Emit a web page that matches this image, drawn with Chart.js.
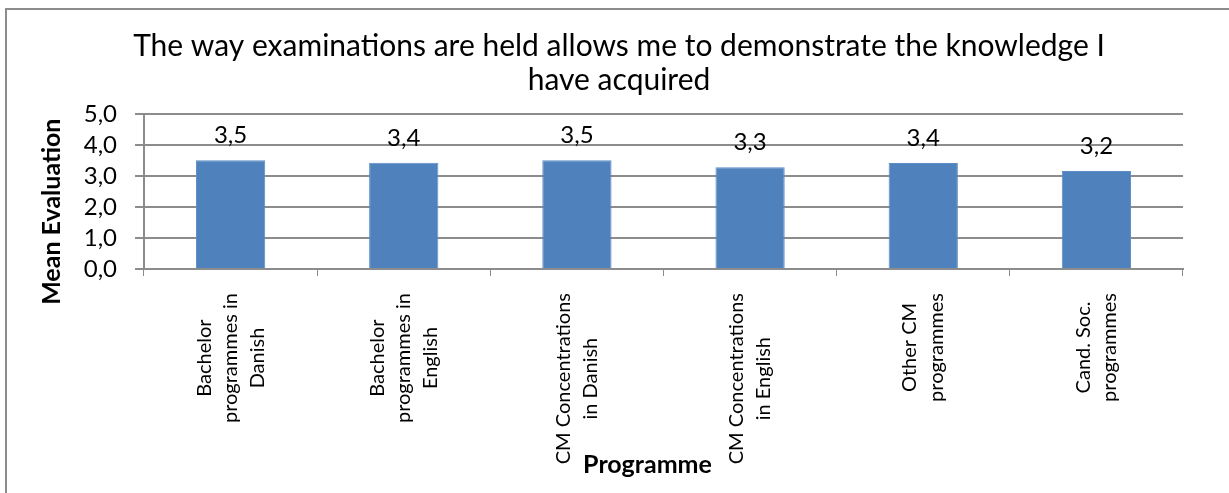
<!DOCTYPE html>
<html>
<head>
<meta charset="utf-8">
<script src="https://cdn.jsdelivr.net/npm/chart.js@4.4.1/dist/chart.umd.min.js"></script>
<style>
  html, body { margin: 0; padding: 0; background: #fff; }
  #wrap { position: relative; width: 1229px; height: 493px; overflow: hidden; }
  #frame { position: absolute; left: 5px; top: 8px; width: 1400px; height: 700px;
           border-left: 2px solid #8c8c8c; border-top: 2px solid #8c8c8c; pointer-events: none; }
</style>
</head>
<body>
<div id="wrap">
  <canvas id="chart-exams"></canvas>
  <div id="frame"></div>
</div>
<script>
const titleLines = [
  "The way examinations are held allows me to demonstrate the knowledge I",
  "have acquired",
];
const programmes = [
  ["Bachelor", "programmes in", "Danish"],
  ["Bachelor", "programmes in", "English"],
  ["CM Concentrations", "in Danish"],
  ["CM Concentrations", "in English"],
  ["Other CM", "programmes"],
  ["Cand. Soc.", "programmes"],
];
const meanEvaluation = [3.52, 3.44, 3.52, 3.29, 3.43, 3.17];
const yTicks = [0, 1, 2, 3, 4, 5];
const xTitle = "Programme";
const yTitle = "Mean Evaluation";

const FONT = "Lato";
const fmt = (v) => v.toFixed(1).replace(".", ",");

// value labels on top of bars
const barValues = {
  id: "barValues",
  afterDatasetsDraw(chart) {
    const c = chart.ctx;
    const meta = chart.getDatasetMeta(0);
    c.save();
    c.font = "24px " + FONT;
    c.fillStyle = "#000";
    c.textAlign = "center";
    c.textBaseline = "alphabetic";
    meta.data.forEach((bar, i) => {
      c.fillText(fmt(meanEvaluation[i]), bar.x, bar.y - 17);
    });
    c.restore();
  },
};

// rotated category labels (lines centred) and the two axis titles
const axisText = {
  id: "axisText",
  afterDraw(chart) {
    const c = chart.ctx;
    const xs = chart.scales.x;
    const ys = chart.scales.y;
    const lh = 26.5;
    c.save();
    c.font = "20px " + FONT;
    c.fillStyle = "#000";
    c.textAlign = "center";
    c.textBaseline = "middle";
    programmes.forEach((lines, i) => {
      const x = xs.getPixelForValue(i);
      const w = Math.max(...lines.map((l) => c.measureText(l).width));
      const yc = xs.top + 24 + w / 2;
      lines.forEach((l, k) => {
        c.save();
        c.translate(x + (k - (lines.length - 1) / 2) * lh, yc);
        c.rotate(-Math.PI / 2);
        c.fillText(l, 0, 0);
        c.restore();
      });
    });

    c.font = "bold 25px " + FONT;
    c.textBaseline = "alphabetic";
    c.fillText(xTitle, (xs.left + xs.right) / 2 - 16, 473);

    c.textBaseline = "middle";
    c.translate(52, (ys.top + ys.bottom) / 2 + 20);
    c.rotate(-Math.PI / 2);
    c.fillText(yTitle, 0, 0);
    c.restore();
  },
};

new Chart(document.getElementById("chart-exams"), {
  type: "bar",
  data: {
    labels: programmes.map((p) => p.join(" ")),
    datasets: [
      {
        label: yTitle,
        data: meanEvaluation,
        backgroundColor: "#4f81bd",
        borderColor: "#5b8cc6",
        borderWidth: 1,
        barPercentage: 0.8,
        categoryPercentage: 0.5,
      },
    ],
  },
  options: {
    responsive: true,
    maintainAspectRatio: false,
    animation: false,
    layout: { padding: { left: 55, right: 46, top: 0, bottom: 0 } },
    plugins: {
      legend: { display: false },
      tooltip: { enabled: false },
      title: {
        display: true,
        text: titleLines,
        color: "#000",
        font: { family: FONT, size: 30, weight: "normal", lineHeight: 1.14 },
        padding: { top: 29, bottom: 17 },
      },
    },
    scales: {
      x: {
        grid: { drawOnChartArea: false, drawTicks: true, tickLength: 7, color: "#8c8c8c", offset: true },
        border: { color: "#8c8c8c", width: 2 },
        ticks: { display: false },
        afterFit(s) { s.height = 224; },
      },
      y: {
        min: 0,
        max: 5,
        afterBuildTicks(s) { s.ticks = yTicks.map((v) => ({ value: v })); },
        grid: { color: "#8c8c8c", lineWidth: 2, tickLength: 9 },
        border: { color: "#8c8c8c", width: 2 },
        ticks: {
          color: "#000",
          font: { family: FONT, size: 24 },
          padding: 18,
          autoSkip: false,
          callback: (v) => fmt(v),
        },
        afterFit(s) { s.width = 89; },
      },
    },
  },
  plugins: [barValues, axisText],
});
</script>
</body>
</html>
